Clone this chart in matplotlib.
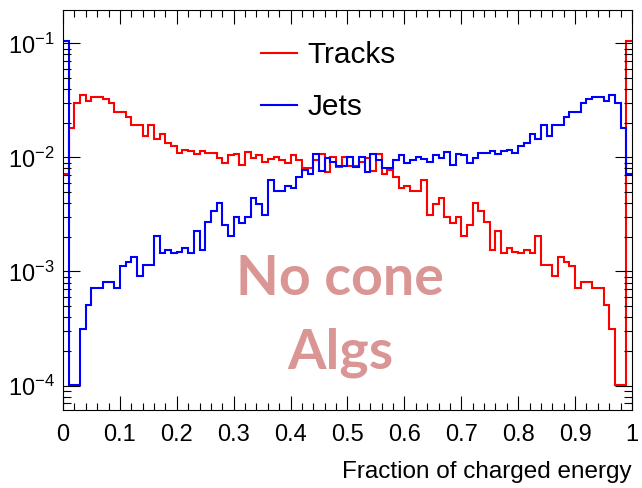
import numpy as np
import matplotlib
matplotlib.use("Agg")
import matplotlib.pyplot as plt
from matplotlib.ticker import LogLocator, MultipleLocator, NullFormatter, FuncFormatter

plt.rcParams['font.family'] = ['Liberation Sans', 'DejaVu Sans']
plt.rcParams['mathtext.fontset'] = 'custom'
plt.rcParams['mathtext.rm'] = 'Liberation Sans'

# 100 bins in the charged energy fraction, normalised counts
bin_edges = np.linspace(0.0, 1.0, 101)

tracks = [
    0.0071, 0.0180, 0.0301, 0.0351, 0.0314, 0.0340, 0.0336, 0.0324, 0.0298, 0.0248,
    0.0248, 0.0227, 0.0192, 0.0192, 0.0154, 0.0192, 0.0144, 0.0160, 0.0133, 0.0127,
    0.0109, 0.0116, 0.0113, 0.0107, 0.0114, 0.0110, 0.0109, 0.0099, 0.0090, 0.0106,
    0.0107, 0.0086, 0.0111, 0.0098, 0.0104, 0.0092, 0.0096, 0.0101, 0.0094, 0.0090,
    0.0105, 0.0095, 0.0080, 0.0080, 0.0095, 0.0107, 0.0075, 0.0100, 0.0083, 0.0100,
    0.0084, 0.0084, 0.0092, 0.0098, 0.0076, 0.0108, 0.0072, 0.0078, 0.0068, 0.0054,
    0.0056, 0.0051, 0.0051, 0.0063, 0.0031, 0.0039, 0.0044, 0.0030, 0.00267, 0.0030,
    0.00204, 0.00255, 0.0040, 0.0034, 0.00274, 0.00154, 0.00226, 0.00144, 0.00162, 0.00149,
    0.00145, 0.00154, 0.00144, 0.00204, 0.00114, 0.00114, 0.00091, 0.00133, 0.00121, 0.00112,
    0.00071, 0.00081, 0.00081, 0.00071, 0.00071, 0.00051, 0.00031, 0.000102, 0.000102, 0.105,
]

jets = [
    0.105, 0.000102, 0.000102, 0.00031, 0.00051, 0.00071, 0.00071, 0.00081, 0.00081, 0.00071,
    0.00112, 0.00121, 0.00133, 0.00091, 0.00114, 0.00114, 0.00204, 0.00144, 0.00154, 0.00145,
    0.00149, 0.00162, 0.00144, 0.00226, 0.00154, 0.00274, 0.0034, 0.0040, 0.00255, 0.00204,
    0.0030, 0.00267, 0.0030, 0.0044, 0.0039, 0.0031, 0.0063, 0.0051, 0.0051, 0.0056,
    0.0054, 0.0068, 0.0078, 0.0072, 0.0108, 0.0076, 0.0098, 0.0092, 0.0084, 0.0084,
    0.0100, 0.0083, 0.0100, 0.0075, 0.0107, 0.0095, 0.0080, 0.0080, 0.0095, 0.0105,
    0.0090, 0.0094, 0.0101, 0.0096, 0.0092, 0.0104, 0.0098, 0.0111, 0.0086, 0.0107,
    0.0106, 0.0090, 0.0099, 0.0109, 0.0110, 0.0114, 0.0107, 0.0113, 0.0116, 0.0109,
    0.0127, 0.0133, 0.0160, 0.0144, 0.0192, 0.0154, 0.0192, 0.0192, 0.0227, 0.0248,
    0.0248, 0.0298, 0.0324, 0.0336, 0.0340, 0.0314, 0.0351, 0.0301, 0.0180, 0.0071,
]

fig = plt.figure(figsize=(6.42, 4.88), dpi=100)
ax = fig.add_axes([0.0981, 0.1598, 0.8863, 0.8207])

ax.stairs(tracks, bin_edges, baseline=None, color='#ff0000', linewidth=1.5, label='Tracks')
ax.stairs(jets, bin_edges, baseline=None, color='#0000ff', linewidth=1.5, label='Jets')

ax.set_yscale('log')
ax.set_xlim(0, 1)
ax.set_ylim(6.1e-5, 0.198)

# ROOT-like axes: inward ticks on all four sides
ax.xaxis.set_major_locator(MultipleLocator(0.1))
ax.xaxis.set_minor_locator(MultipleLocator(0.02))
ax.xaxis.set_major_formatter(FuncFormatter(lambda v, p: f"{v:g}"))
ax.yaxis.set_major_locator(LogLocator(base=10))
ax.yaxis.set_minor_locator(LogLocator(base=10, subs=np.arange(2, 10)))
ax.yaxis.set_minor_formatter(NullFormatter())

ax.tick_params(axis='both', which='both', direction='in', top=True, right=True,
               width=0.8, labelsize=17)
ax.tick_params(axis='x', which='major', length=10, pad=10)
ax.tick_params(axis='x', which='minor', length=5)
ax.tick_params(axis='y', which='major', length=12.5, pad=6)
ax.tick_params(axis='y', which='minor', length=6)
for s in ax.spines.values():
    s.set_linewidth(0.8)

ax.set_xlabel('Fraction of charged energy', fontsize=17.5, loc='right', labelpad=11)

ax.legend(loc='upper left', bbox_to_anchor=(0.406, 0.915), bbox_transform=fig.transFigure,
          frameon=False, fontsize=21.5, handlelength=1.22, handletextpad=0.35,
          labelspacing=0.8, borderpad=0, borderaxespad=0)

fig.text(0.5296, 0.3955, 'No cone', color='#D99694', fontsize=40, fontweight='bold',
         family='Lato', ha='center', va='baseline')
fig.text(0.5296, 0.2459, 'Algs', color='#D99694', fontsize=40, fontweight='bold',
         family='Lato', ha='center', va='baseline')

fig.savefig('out.png', dpi=100)
